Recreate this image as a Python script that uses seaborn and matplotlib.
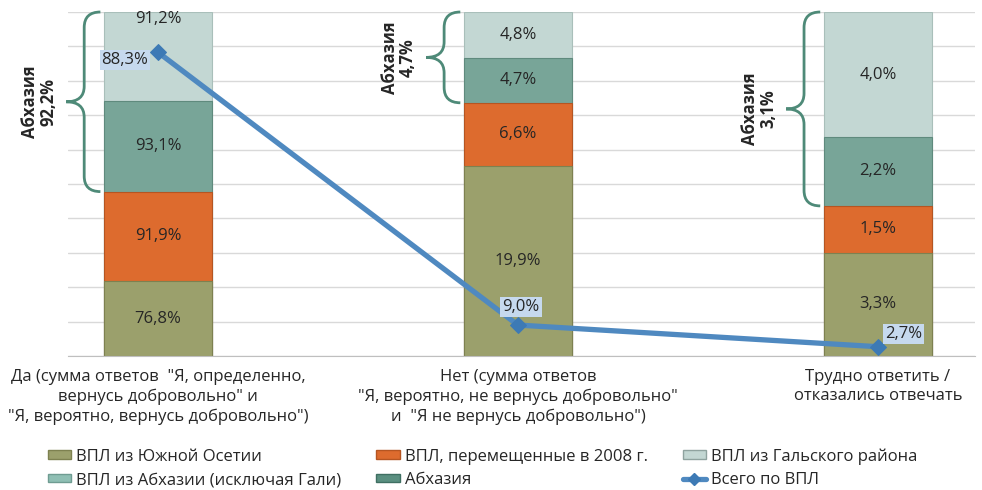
import numpy as np
import matplotlib.pyplot as plt
import seaborn as sns
from matplotlib.path import Path
from matplotlib.patches import PathPatch, Patch
from matplotlib.lines import Line2D

# --- data ---
categories = [
    'Да (сумма ответов  "Я, определенно,\nвернусь добровольно" и\n"Я, вероятно, вернусь добровольно")',
    'Нет (сумма ответов\n"Я, вероятно, не вернусь добровольно"\nи  "Я не вернусь добровольно")',
    'Трудно ответить /\nотказались отвечать',
]
south_ossetia = [76.8, 19.9, 3.3]
moved_2008 = [91.9, 6.6, 1.5]
abkhazia_excl_gali = [93.1, 4.7, 2.2]
gali = [91.2, 4.8, 4.0]
abkhazia_total = [92.2, 4.7, 3.1]
all_idp = [88.3, 9.0, 2.7]

series_names = ['ВПЛ из Южной Осетии', 'ВПЛ, перемещенные в 2008 г.',
                'ВПЛ из Абхазии (исключая Гали)', 'ВПЛ из Гальского района']
series_colors = ['#9ba06c', '#dd6b2e', '#78a598', '#c3d7d3']
edge_colors = ['#7d8150', '#b55522', '#5f8a7d', '#a9bfba']
brace_color = '#4e8a78'
line_color = '#4f89c0'
text_color = '#262626'
fs = 12

sns.set_style('white')
plt.rcParams['font.family'] = ['Open Sans', 'DejaVu Sans']

fig = plt.figure(figsize=(9.82, 4.90), dpi=100)
ax = fig.add_axes([68 / 982, 1 - 356 / 490, (975 - 68) / 982, (356 - 12) / 490])

vals = np.array([south_ossetia, moved_2008, abkhazia_excl_gali, gali])
shares = vals / vals.sum(axis=0) * 100
tops = shares.cumsum(axis=0)
x = np.arange(len(categories))
bar_w = 0.30

# stacked bars: draw cumulative heights from the top segment down
for i in reversed(range(len(series_names))):
    sns.barplot(x=x, y=tops[i], color=series_colors[i], saturation=1,
                width=bar_w, edgecolor=edge_colors[i], linewidth=0.8, ax=ax, zorder=2)

# segment labels (top label of first bar nudged up, as in the source)
label_nudge = {(3, 0): 11}
for i in range(len(series_names)):
    for j in range(len(categories)):
        yc = tops[i][j] - shares[i][j] / 2 + label_nudge.get((i, j), 0)
        ax.text(x[j], yc, f'{vals[i][j]:.1f}%'.replace('.', ','), ha='center', va='center',
                fontsize=fs, color=text_color, zorder=3)

# line "Всего по ВПЛ"
sns.lineplot(x=x, y=all_idp, color=line_color, lw=3.8, marker='D', markersize=8,
             markerfacecolor='#3d7ab5', markeredgecolor='#3d7ab5', ax=ax, zorder=4)
offsets = [(-33, -8), (3, 18), (26, 13)]
for j, v in enumerate(all_idp):
    ax.annotate(f'{v:.1f}%'.replace('.', ','), (x[j], v), xytext=offsets[j],
                textcoords='offset pixels', ha='center', va='center', fontsize=fs,
                color=text_color, zorder=5,
                bbox=dict(boxstyle='square,pad=0.12', fc='#c6d9ee', ec='none'))

# braces for Abkhazia total
for j in range(len(categories)):
    y0, y1 = tops[1][j], 100.0
    ym = (y0 + y1) / 2
    r = 4.5
    xe = x[j] - bar_w / 2 - 0.01
    xs = xe - 0.045
    xt = xe - 0.095
    verts = [(xe, y0), (xs, y0), (xs, y0 + r), (xs, ym - r), (xs, ym), (xt, ym),
             (xs, ym), (xs, ym + r), (xs, y1 - r), (xs, y1), (xe, y1)]
    codes = [Path.MOVETO, Path.CURVE3, Path.CURVE3, Path.LINETO, Path.CURVE3, Path.CURVE3,
             Path.CURVE3, Path.CURVE3, Path.LINETO, Path.CURVE3, Path.CURVE3]
    ax.add_patch(PathPatch(Path(verts, codes), fc='none', ec=brace_color, lw=2,
                           clip_on=False, zorder=3))
    ax.text(xt - 0.075, ym, f'Абхазия\n{abkhazia_total[j]:.1f}%'.replace('.', ','),
            rotation=90, ha='center', va='center', fontsize=12, fontweight='bold',
            color=text_color, linespacing=1.0, clip_on=False)

ax.set_xlim(-0.25, 2.27)
ax.set_ylim(0, 100)
ax.set_yticks(range(0, 101, 10))
ax.set_yticklabels([])
ax.yaxis.grid(True, color='#d9d9d9', lw=1, zorder=0)
ax.set_axisbelow(True)
ax.set_xticks(x)
ax.set_xticklabels(categories, fontsize=fs, color=text_color, linespacing=1.3)
ax.tick_params(axis='both', length=0, pad=9)
ax.set_xlabel('')
ax.set_ylabel('')
for s in ['top', 'right', 'left']:
    ax.spines[s].set_visible(False)
ax.spines['bottom'].set_color('#bfbfbf')

handles = [
    Patch(fc=series_colors[0], ec=edge_colors[0]),
    Patch(fc='#8fbfb4', ec='#6f9c92'),
    Patch(fc=series_colors[1], ec=edge_colors[1]),
    Patch(fc='#5a8f80', ec='#3f6f62'),
    Patch(fc=series_colors[3], ec='#8fa39f'),
    Line2D([], [], color=line_color, lw=3.8, marker='D', markersize=6,
           markerfacecolor='#3d7ab5', markeredgecolor='#3d7ab5'),
]
labels = [series_names[0], series_names[2], series_names[1], 'Абхазия', series_names[3], 'Всего по ВПЛ']
fig.legend(handles, labels, ncol=3, loc='upper left', bbox_to_anchor=(48 / 982, 1 - 448 / 490),
           frameon=False, handlelength=1.4, handleheight=0.4, handletextpad=0.3,
           columnspacing=2.1, labelspacing=0.45, borderaxespad=0, borderpad=0,
           prop={'size': fs}, labelcolor=text_color)

fig.savefig('out.png', dpi=100)
